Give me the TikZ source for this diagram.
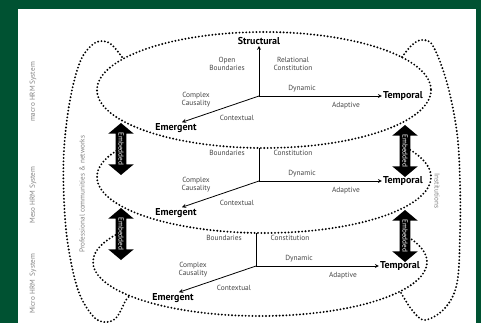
\documentclass[tikz,border=0pt]{standalone}
\usepackage{fontspec}
\setmainfont{PT Sans}
\usetikzlibrary{shapes.arrows}
\definecolor{frame}{RGB}{0,82,50}
\definecolor{lbl}{RGB}{70,70,70}
\definecolor{side}{RGB}{130,130,130}
\begin{document}
\begin{tikzpicture}[x=1pt, y=-1pt, line join=round, >=stealth,
  dots/.style={line width=2.1pt, line cap=round, dash pattern=on 0pt off 3.4pt},
  ax/.style={font=\bfseries\fontsize{10}{11}\selectfont, inner sep=1pt},
  tag/.style={font=\fontsize{7.4}{8}\selectfont, text=lbl, align=center, inner sep=0pt},
  sidetag/.style={font=\fontsize{7.2}{8}\selectfont, text=side, inner sep=0pt},
  embed/.style={double arrow, fill=black, text=white, rotate=-90, minimum height=52pt,
    double arrow head extend=7.5pt, double arrow tip angle=100, inner sep=2.5pt,
    font=\fontsize{7.2}{7.5}\selectfont}]
\useasboundingbox (0,0) rectangle (481,323);
\fill[frame] (0,0) rectangle (481,323);
\fill[white] (18,9) rectangle (476,323);
% rings
\draw[dots] (264,90) ellipse [x radius=167, y radius=58];
\draw[dots] (264,177) ++(210:167 and 56) arc[start angle=210, end angle=-30, x radius=167, y radius=56];
\draw[dots] (260,262) ++(210:167 and 54) arc[start angle=210, end angle=-30, x radius=167, y radius=54];
% outer loops
\draw[dots] plot[smooth, tension=0.6] coordinates {(122,57) (112,45) (103,41) (92,45) (80,62) (70,100) (64,150)
  (64,200) (68,245) (78,290) (92,315) (104,322) (116,318) (126,300) (130,296)};
\draw[dots] plot[smooth, tension=0.6] coordinates {(402,57) (412,45) (422,40) (433,46) (447,83) (457,133) (460,183)
  (460,233) (457,283) (445,308) (425,320) (412,310) (400,291)};
% embedded arrows
\node[embed] (emb1) at (121,149) {Embedded};
\node[embed] (emb2) at (121,234) {Embedded};
\node[embed] (emb3) at (405,151) {Embedded};
\node[embed] (emb4) at (405,236) {Embedded};
% side texts
\node[sidetag, rotate=90] (macro) at (33,92) {macro HRM System};
\node[sidetag, rotate=90] (meso) at (33,195) {Meso HRM System};
\node[sidetag, rotate=90] (micro) at (33,284) {Micro HRM~ System};
\node[sidetag, rotate=90] (prof) at (82,194) {Professional communities \& networks};
\node[sidetag, rotate=-90] (inst) at (437,191) {Institutions};
% axes
\foreach \i/\dx/\dy in {1/0/0, 2/0/85, 3/-3/170}{
\begin{scope}[shift={(\dx,\dy)}]
\coordinate (o\i) at (259,96);
\node[ax] (t\i) at (403,96) {Temporal};
\node[ax] (e\i) at (176,128) {Emergent};
\draw[->, line width=0.8pt] (o\i) -- (t\i);
\draw[->, line width=0.8pt] (o\i) -- ([xshift=6pt]e\i.north);
\node[tag] (dyn\i) at (302,89) {Dynamic};
\node[tag] (ada\i) at (346,106) {Adaptive};
\node[tag] (cc\i) at (196,100) {Complex\\Causality};
\node[tag] (ctx\i) at (237,118) {Contextual};
\end{scope}
}
\node[ax] (s1) at (259,41) {Structural};
\draw[->, line width=0.8pt] (o1) -- (s1);
\node[tag] (ob1) at (227,64) {Open\\Boundaries};
\node[tag] (rc1) at (293,64) {Relational\\Constitution};
\foreach \i/\dx/\dy in {2/0/85, 3/-3/170}{
\begin{scope}[shift={(\dx,\dy)}]
\coordinate (v\i) at (259,63);
\draw[line width=0.8pt] (o\i) -- (v\i);
\node[tag] (b\i) at (227,68) {Boundaries};
\node[tag] (c\i) at (293,68) {Constitution};
\end{scope}
}
\end{tikzpicture}
\end{document}
